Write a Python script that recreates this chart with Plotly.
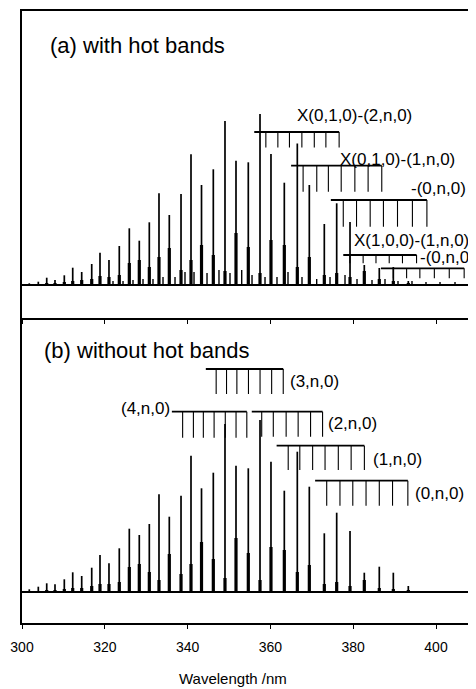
import plotly.graph_objs as go

# peak positions (nm), shared by both panels
peak_nm = [301.76, 303.94, 305.97, 307.97, 310.22, 312.25, 314.42, 316.84, 318.84, 321.01,
           323.50, 325.92, 328.33, 330.75, 333.09, 335.58, 338.41, 340.82, 343.36, 346.21,
           349.03, 351.69, 354.66, 357.49, 360.14, 363.36, 366.50, 369.40, 373.02, 376.01,
           379.23, 382.68, 386.30, 389.69, 393.31]

# (a) with hot bands
a_height = [1.7, 3.3, 7.3, 5, 9.7, 17.3, 13, 21, 32.3, 25,
            39, 56.7, 44.3, 62.7, 91.7, 70, 91, 130.7, 100, 115.7,
            164, 124.3, 122.7, 171, 131, 102.3, 141.5, 100, 61, 81.7,
            63, 20, 17, 18, 4]
a_shoulder = [0, 0, 2, 2, 3, 4, 5, 6, 9, 8,
              10, 22, 25, 18, 28, 37, 15, 25, 40, 30,
              14, 52, 38, 12, 45, 40, 18, 28, 10, 12,
              8, 14, 6, 4, 2]
hot_nm = [321.98, 324.40, 326.81, 329.23, 331.64, 334.06, 336.96, 339.37, 341.55, 344.69,
          347.58, 350.24, 353.07, 355.56, 358.70, 361.59, 364.25, 367.63, 371.18, 374.40,
          378.02, 380.92, 384.54, 387.68, 390.82, 394.20, 397.58, 400.97, 404.59]
hot_height = [4, 4, 5, 6, 6, 8, 8, 13, 13, 12,
              15, 12, 15, 10, 8, 8, 13, 8, 6, 8,
              10, 6, 5, 6, 4, 4, 3, 3, 3]

# (b) without hot bands
b_height = [2.7, 5.3, 8.7, 7.7, 12.7, 19.7, 16, 24.3, 37, 28.7,
            43.7, 63.3, 57, 68, 97.7, 75.3, 96.3, 136.3, 103.7, 119.3,
            168, 126.3, 123.7, 172, 130.3, 101.3, 140.3, 105.3, 58.7, 79.3,
            61, 19.3, 25.3, 19.3, 6]
b_shoulder = [0, 0, 2, 2, 3, 4, 4, 6, 8, 8,
              10, 25, 28, 20, 12, 38, 18, 28, 50, 33,
              14, 54, 39, 12, 45, 42, 20, 27, 8, 10,
              6, 12, 4, 3, 2]

# progression combs: (label, start of bar, tick wavelengths)
a_combs = [
    ("X(0,1,0)-(2,n,0)", 356.1, [358.9, 361.8, 364.6, 367.6, 370.6, 373.4, 376.6]),
    ("X(0,1,0)-(1,n,0)", 365.0, [367.9, 371.2, 374.0, 377.1, 380.4, 383.6, 386.9]),
    ("-(0,n,0)", 374.6, [377.6, 380.8, 384.1, 387.3, 390.7, 394.3, 397.8]),
    ("X(1,0,0)-(1,n,0)", 377.6, [379.2, 382.4, 385.5, 388.7, 391.9, 395.3]),
    ("-(0,n,0)", 386.7, [389.7, 392.9, 396.1, 399.6, 403.2, 406.8]),
]
b_combs = [
    ("(3,n,0)", 344.4, [346.9, 349.4, 351.9, 354.7, 357.5, 360.3, 363.1]),
    ("(4,n,0)", 336.2, [338.8, 341.4, 343.8, 346.4, 349.1, 351.7, 354.3]),
    ("(2,n,0)", 355.5, [357.9, 360.7, 363.8, 366.7, 369.7, 372.6]),
    ("(1,n,0)", 361.5, [364.3, 367.1, 370.2, 373.2, 376.4, 379.5, 382.7]),
    ("(0,n,0)", 370.8, [373.6, 376.8, 379.9, 383.1, 386.3, 389.5, 393.2]),
]

# drawing positions for the combs: bar level, tick bottom, label x, label y, anchor
a_comb_pos = [(153, 137.5, 380.4, 170, "center"),
              (119.3, 93.3, 390.7, 126, "center"),
              (85, 58.3, 400.7, 96.7, "center"),
              (30, 21.7, 394.2, 44.3, "center"),
              (16.7, 6.7, 402.7, 27.7, "center")]
b_comb_pos = [(223, 198, 364.3, 210.3, "left"),
              (180.3, 154.3, 336.2, 183.7, "right"),
              (180.3, 155.3, 373.4, 168.7, "left"),
              (146.3, 122, 384.2, 132.7, "left"),
              (111.3, 86.3, 394.4, 98.7, "left")]

X_MIN, X_MAX = 300, 409.66
FONT = "Liberation Sans, Arial, sans-serif"


def sticks(pos, heights):
    xs, ys = [], []
    for p, h in zip(pos, heights):
        if h <= 0:
            continue
        xs += [p, p, None]
        ys += [0, h, None]
    return xs, ys


def comb_lines(start, ticks, level, bottom):
    hx = [start, ticks[-1], None]
    hy = [level, level, None]
    tx, ty = [], []
    for t in ticks:
        tx += [t, t, None]
        ty += [level, bottom, None]
    return hx, hy, tx, ty


def add_panel(fig, xname, yname, heights, shoulders, combs, comb_pos, extra=None):
    fig.add_trace(go.Scatter(x=[X_MIN, X_MAX], y=[0, 0], mode="lines", xaxis=xname, yaxis=yname,
                             line=dict(color="black", width=1.8), hoverinfo="skip"))
    if extra is not None:
        ex, ey = sticks(*extra)
        fig.add_trace(go.Scatter(x=ex, y=ey, mode="lines", xaxis=xname, yaxis=yname,
                                 line=dict(color="black", width=1.4), hoverinfo="skip"))
    sx, sy = sticks(peak_nm, shoulders)
    fig.add_trace(go.Scatter(x=sx, y=sy, mode="lines", xaxis=xname, yaxis=yname,
                             line=dict(color="black", width=3.2), hoverinfo="skip"))
    px, py = sticks(peak_nm, heights)
    fig.add_trace(go.Scatter(x=px, y=py, mode="lines", xaxis=xname, yaxis=yname,
                             line=dict(color="black", width=1.7), hoverinfo="skip"))
    for (label, start, ticks), (level, bottom, lx, ly, anchor) in zip(combs, comb_pos):
        hx, hy, tx, ty = comb_lines(start, ticks, level, bottom)
        fig.add_trace(go.Scatter(x=hx, y=hy, mode="lines", xaxis=xname, yaxis=yname,
                                 line=dict(color="black", width=1.8), hoverinfo="skip"))
        fig.add_trace(go.Scatter(x=tx, y=ty, mode="lines", xaxis=xname, yaxis=yname,
                                 line=dict(color="black", width=1.1), hoverinfo="skip"))
        fig.add_annotation(x=lx, y=ly, xref=xname, yref=yname, text=label, showarrow=False,
                           xanchor=anchor, yanchor="middle",
                           font=dict(family=FONT, size=17, color="black"))


fig = go.Figure()
add_panel(fig, "x2", "y2", a_height, a_shoulder, a_combs, a_comb_pos, extra=(hot_nm, hot_height))
add_panel(fig, "x", "y", b_height, b_shoulder, b_combs, b_comb_pos)

fig.add_annotation(x=306.35, y=240, xref="x2", yref="y2", text="(a) with hot bands",
                   showarrow=False, xanchor="left", yanchor="middle",
                   font=dict(family=FONT, size=22, color="black"))
fig.add_annotation(x=304.76, y=242, xref="x", yref="y", text="(b) without hot bands",
                   showarrow=False, xanchor="left", yanchor="middle",
                   font=dict(family=FONT, size=22, color="black"))
fig.add_annotation(x=350.97, y=-0.0899, xref="x", yref="paper", text="Wavelength /nm",
                   showarrow=False, xanchor="center", yanchor="middle",
                   font=dict(family=FONT, size=15, color="black"))

split = 305 / 612
axis_common = dict(showgrid=False, zeroline=False, showline=True, linecolor="black",
                   linewidth=1.5)
# the page body adds an 8px margin, so the figure is 8px smaller than the window
fig.update_layout(
    width=468, height=681,
    margin=dict(l=14, r=0, t=3, b=66),
    paper_bgcolor="white", plot_bgcolor="white",
    showlegend=False,
    font=dict(family=FONT, color="black"),
    xaxis=dict(axis_common, range=[X_MIN, X_MAX], anchor="y",
               tickvals=[300, 320, 340, 360, 380, 400], ticks="outside", ticklen=4,
               tickcolor="black", tickwidth=1.2, ticklabelstandoff=6,
               tickfont=dict(family=FONT, size=14, color="black")),
    xaxis2=dict(axis_common, range=[X_MIN, X_MAX], anchor="y2", matches="x",
                mirror=True, showticklabels=False, ticks="outside", ticklen=4,
                tickcolor="black", tickwidth=1.2,
                tickvals=[300, 320, 340, 360, 380, 400]),
    yaxis=dict(axis_common, domain=[0, split], range=[-31, 274],
               showticklabels=False, ticks=""),
    yaxis2=dict(axis_common, domain=[split, 1], range=[-33, 274], anchor="x2",
                showticklabels=False, ticks=""),
)

fig.write_html("out.html")
